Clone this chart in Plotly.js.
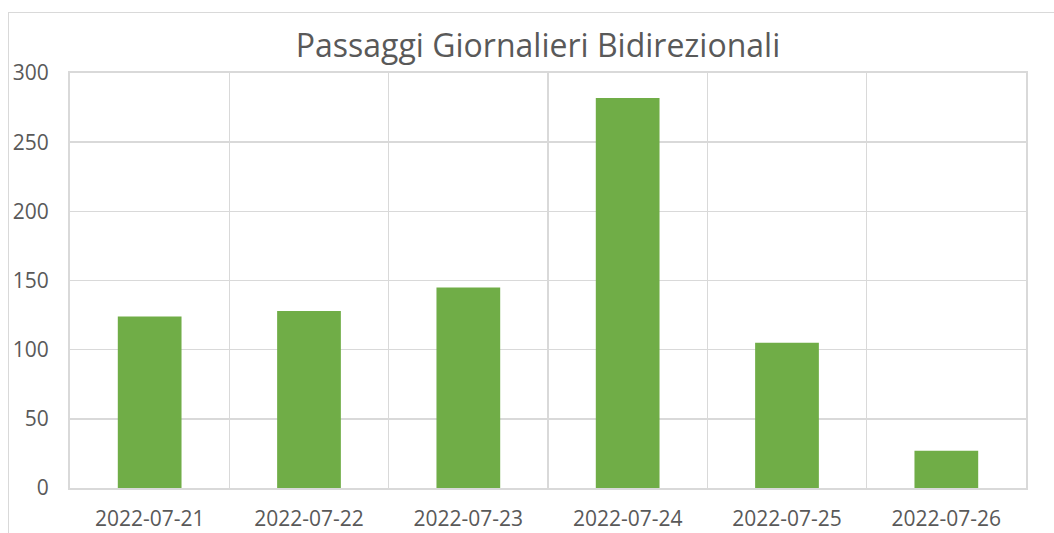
<!DOCTYPE html>
<html>
<head>
<meta charset="utf-8">
<script src="https://cdn.plot.ly/plotly-3.0.1.min.js"></script>
<style>
html,body{margin:0;padding:0;background:#fff;overflow:hidden;}
#frame{position:absolute;left:8px;top:12px;width:1100px;height:600px;border:1px solid #d9d9d9;}
#chart{position:absolute;left:0;top:0;width:1054px;height:533px;}
</style>
</head>
<body>
<div id="frame"></div>
<div id="chart"></div>
<script>
const categories = ["2022-07-21","2022-07-22","2022-07-23","2022-07-24","2022-07-25","2022-07-26"];
const passaggi = [124, 128, 145, 282, 105, 27];
const yTicks = [0, 50, 100, 150, 200, 250, 300];

const font = "Open Sans, Noto Sans, sans-serif";
Plotly.newPlot("chart", [{
  type: "bar",
  x: categories,
  y: passaggi,
  marker: {color: "#70ad47"},
  hoverinfo: "x+y"
}], {
  width: 1054, height: 533,
  margin: {l: 70, r: 28, t: 73, b: 45},
  paper_bgcolor: "rgba(0,0,0,0)",
  plot_bgcolor: "rgba(0,0,0,0)",
  bargap: 0.6,
  title: {text: "Passaggi Giornalieri Bidirezionali", font: {family: font, size: 32, color: "#595959"},
          x: 538/1054, xref: "container", xanchor: "center", y: 1 - 46/533, yanchor: "middle", yref: "container"},
  showlegend: false,
  xaxis: {
    type: "category",
    tickson: "boundaries",
    showgrid: true, gridcolor: "#d9d9d9", gridwidth: 1.5,
    showline: true, linecolor: "#d9d9d9", linewidth: 2, mirror: true,
    ticks: "", ticklabelstandoff: 11,
    tickfont: {family: font, size: 21, color: "#595959"}
  },
  yaxis: {
    range: [0, 300],
    tickvals: yTicks,
    showgrid: true, gridcolor: "#d9d9d9", gridwidth: 1.5,
    showline: true, linecolor: "#d9d9d9", linewidth: 2, mirror: true,
    zeroline: false,
    ticks: "", ticklabelstandoff: 15,
    tickfont: {family: font, size: 21, color: "#595959"}
  }
}, {displayModeBar: false, staticPlot: true});
</script>
</body>
</html>
